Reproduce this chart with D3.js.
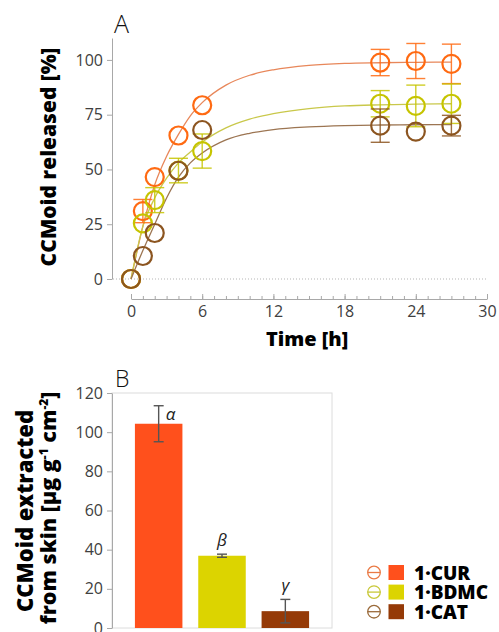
<!DOCTYPE html>
<html>
<head>
<meta charset="utf-8">
<script src="https://cdn.jsdelivr.net/npm/d3@7"></script>
<style>
  body { margin: 0; background: #fff; }
  svg { display: block; font-family: "Open Sans", Lato, sans-serif; }
</style>
</head>
<body>
<div id="visual-container"></div>
<script>
// panel A - release data
const timePoints = [0, 1, 2, 4, 6, 21, 24, 27]
const curReleased = [0, 31, 46.5, 65.5, 79.3, 98.8, 99.5, 98.2]
const curErr = [0, 5.3, 0, 0, 0, 6, 8, 9]
const bdmcReleased = [0, 25.4, 36, 49.5, 58.4, 80, 79, 80]
const bdmcErr = [0, 0, 5.7, 5.6, 7.8, 6, 9.5, 9]
const catReleased = [0, 10.5, 21, 49.4, 68, 70, 67.3, 70]
const catErr = [0, 0, 0, 0, 0, 7.6, 0, 4.7]

// fitted curves
const fitTimes = [0, 1, 2, 3, 4, 5, 6, 8, 10, 12, 15, 18, 21, 24, 27]
const curFit = [0, 24, 43, 56, 66, 74.5, 80.5, 88.5, 93, 95.5, 97.5, 98.4, 98.7, 98.9, 99]
const bdmcFit = [0, 24, 37, 46, 53, 58, 62.5, 69, 73, 75.5, 77.8, 79, 79.5, 79.8, 80]
const catFit = [0, 13, 25, 37, 46.5, 53, 57.5, 63.5, 66.5, 68.2, 69.4, 70, 70.3, 70.4, 70.5]

const xTicks = [0, 6, 12, 18, 24, 30]
const yTicksA = [0, 25, 50, 75, 100]

// panel B - skin extraction
const compounds = ['1·CUR', '1·BDMC', '1·CAT']
const extracted = [104.3, 36.9, 8.6]
const extractedErr = [9.2, 0.8, 6]
const groupLetters = ['α', 'β', 'γ']
const yTicksB = [0, 20, 40, 60, 80, 100, 120]

const markerColors = ['#ff6a12', '#c6c400', '#8c5520']
const fitColors = ['#e8875a', '#c9c84a', '#9c7552']
const barColors = ['#ff501c', '#dcd400', '#953a07']
const legendLineColors = ['#ea7a45', '#c8c838', '#9a6a3a']

const width = 499
const height = 632

const svg = d3.select('#visual-container')
              .append('svg')
              .attr('width', width)
              .attr('height', height)

let xScale, yScaleA, xBand, yScaleB

const generateScales = () => {
    xScale = d3.scaleLinear().domain([0, 30]).range([131, 487])
    yScaleA = d3.scaleLinear().domain([0, 110]).range([279, 38])
    xBand = d3.scaleBand().domain(compounds).range([127, 317])
              .paddingInner(0.25).paddingOuter(0.125)
    yScaleB = d3.scaleLinear().domain([0, 120]).range([628, 393])
}

const styleAxis = (g, color) => {
    g.selectAll('path').attr('stroke', color)
    g.selectAll('line').attr('stroke', color)
    g.selectAll('text')
        .attr('fill', '#404040')
        .style('font-size', '16px')
        .style('font-weight', 400)
        .style('font-family', '"Open Sans", sans-serif')
}

const drawPanelA = () => {
    svg.append('text')
        .attr('x', 114).attr('y', 33)
        .style('font-size', '25px').style('font-weight', 300)
        .attr('fill', '#111')
        .text('A')

    // dotted zero line
    svg.append('line')
        .attr('x1', 113).attr('x2', xScale(30))
        .attr('y1', yScaleA(0)).attr('y2', yScaleA(0))
        .attr('stroke', '#b5b5b5')
        .attr('stroke-dasharray', '1,2')

    const yAxis = d3.axisLeft(yScaleA).tickValues(yTicksA).tickSize(5).tickSizeOuter(0).tickPadding(4)
    svg.append('g')
        .attr('transform', 'translate(112,0)')
        .call(yAxis)
        .call(g => styleAxis(g, '#a8a8a8'))

    const minorAxis = d3.axisBottom(xScale).tickValues(d3.range(0, 31)).tickSize(-3).tickSizeOuter(0).tickFormat('')
    svg.append('g')
        .attr('transform', 'translate(0,299)')
        .call(minorAxis)
        .call(g => styleAxis(g, '#a8a8a8'))

    const xAxis = d3.axisBottom(xScale).tickValues(xTicks).tickSize(-5).tickSizeOuter(0).tickPadding(7)
    svg.append('g')
        .attr('transform', 'translate(0,299)')
        .call(xAxis)
        .call(g => styleAxis(g, '#a8a8a8'))
        .call(g => g.select('path').remove())

    svg.append('text')
        .attr('x', 307).attr('y', 346)
        .attr('text-anchor', 'middle')
        .style('font-size', '20px').style('font-weight', 800)
        .text('Time [h]')

    svg.append('text')
        .attr('transform', 'translate(56,157) rotate(-90)')
        .attr('text-anchor', 'middle')
        .style('font-size', '21px').style('font-weight', 800)
        .text('CCMoid released [%]')

    const series = [
        { values: curReleased, err: curErr, fit: curFit },
        { values: bdmcReleased, err: bdmcErr, fit: bdmcFit },
        { values: catReleased, err: catErr, fit: catFit }
    ]

    const line = d3.line()
                   .x((d, i) => xScale(fitTimes[i]))
                   .y(d => yScaleA(d))
                   .curve(d3.curveMonotoneX)

    series.forEach((s, k) => {
        svg.append('path')
            .datum(s.fit)
            .attr('d', line)
            .attr('fill', 'none')
            .attr('stroke', fitColors[k])
            .attr('stroke-width', 1.3)
    })

    series.forEach((s, k) => {
        const g = svg.append('g').attr('stroke', markerColors[k]).attr('fill', 'none')
        const pts = s.values.map((v, i) => ({ t: timePoints[i], v: v, e: s.err[i] }))
        const bars = g.selectAll('.err').data(pts.filter(d => d.e > 0)).enter().append('g')
        bars.append('line')
            .attr('x1', d => xScale(d.t)).attr('x2', d => xScale(d.t))
            .attr('y1', d => yScaleA(d.v - d.e)).attr('y2', d => yScaleA(d.v + d.e))
            .attr('stroke-width', 1.4).attr('stroke-opacity', 0.85)
        ;[-1, 1].forEach(sign => {
            bars.append('line')
                .attr('x1', d => xScale(d.t) - 9.5).attr('x2', d => xScale(d.t) + 9.5)
                .attr('y1', d => yScaleA(d.v + sign * d.e)).attr('y2', d => yScaleA(d.v + sign * d.e))
                .attr('stroke-width', 1.4).attr('stroke-opacity', 0.85)
        })
        g.selectAll('circle').data(pts).enter().append('circle')
            .attr('cx', d => xScale(d.t))
            .attr('cy', d => yScaleA(d.v))
            .attr('r', 9)
            .attr('stroke-width', 2.2)
    })
}

const drawPanelB = () => {
    svg.append('text')
        .attr('x', 115).attr('y', 387)
        .style('font-size', '23px').style('font-weight', 300)
        .attr('fill', '#111')
        .text('B')

    svg.append('rect')
        .attr('x', 112).attr('y', 393)
        .attr('width', 220).attr('height', 235)
        .attr('fill', 'none')
        .attr('stroke', '#dcdcdc')

    const yAxis = d3.axisLeft(yScaleB).tickValues(yTicksB).tickSize(5).tickSizeOuter(0).tickPadding(4)
    svg.append('g')
        .attr('transform', 'translate(112,0)')
        .call(yAxis)
        .call(g => styleAxis(g, '#a8a8a8'))

    svg.append('text')
        .attr('transform', 'translate(33,511) rotate(-90)')
        .attr('text-anchor', 'middle')
        .style('font-size', '22px').style('font-weight', 800)
        .text('CCMoid extracted')

    const t2 = svg.append('text')
        .attr('transform', 'translate(56,508) rotate(-90)')
        .attr('text-anchor', 'middle')
        .style('font-size', '21.5px').style('font-weight', 800)
    t2.append('tspan').text('from skin [μg g')
    t2.append('tspan').attr('baseline-shift', 'super').style('font-size', '12px').text('-1')
    t2.append('tspan').text(' cm')
    t2.append('tspan').attr('baseline-shift', 'super').style('font-size', '12px').text('-2')
    t2.append('tspan').text(']')

    svg.selectAll('.bar')
        .data(compounds)
        .enter()
        .append('rect')
        .attr('class', 'bar')
        .attr('x', d => xBand(d))
        .attr('width', xBand.bandwidth())
        .attr('y', (d, i) => yScaleB(extracted[i]))
        .attr('height', (d, i) => yScaleB(0) - yScaleB(extracted[i]))
        .attr('fill', (d, i) => barColors[i])

    const eg = svg.append('g').attr('stroke', '#555').attr('stroke-width', 1.4)
    compounds.forEach((c, i) => {
        const cx = xBand(c) + xBand.bandwidth() / 2
        const top = yScaleB(extracted[i] + extractedErr[i])
        const bot = yScaleB(extracted[i] - extractedErr[i])
        eg.append('line').attr('x1', cx).attr('x2', cx).attr('y1', top).attr('y2', bot)
        eg.append('line').attr('x1', cx - 5).attr('x2', cx + 5).attr('y1', top).attr('y2', top)
        eg.append('line').attr('x1', cx - 5).attr('x2', cx + 5).attr('y1', bot).attr('y2', bot)

        const lx = i === 0 ? cx + 7 : cx
        const ly = i === 0 ? yScaleB(extracted[i]) - 4 : top - 8
        svg.append('text')
            .attr('x', lx).attr('y', ly)
            .attr('text-anchor', i === 0 ? 'start' : 'middle')
            .style('font-size', '17px').style('font-style', 'italic')
            .attr('fill', '#222')
            .text(groupLetters[i])
    })
}

const drawLegend = () => {
    const legend = svg.append('g')
    compounds.forEach((c, i) => {
        const cy = 572.5 + i * 19.6
        legend.append('circle')
            .attr('cx', 374).attr('cy', cy).attr('r', 6.3)
            .attr('fill', 'none').attr('stroke', legendLineColors[i]).attr('stroke-width', 1.3)
        legend.append('line')
            .attr('x1', 367.7).attr('x2', 380.3).attr('y1', cy).attr('y2', cy)
            .attr('stroke', legendLineColors[i]).attr('stroke-width', 1.3)
        legend.append('rect')
            .attr('x', 388.5).attr('y', cy - 7.5)
            .attr('width', 15.5).attr('height', 15)
            .attr('fill', barColors[i])
        legend.append('text')
            .attr('x', 414).attr('y', cy + 7)
            .style('font-size', '19px').style('font-weight', 800)
            .text(c)
    })
}

generateScales()
drawPanelA()
drawPanelB()
drawLegend()
</script>
</body>
</html>
